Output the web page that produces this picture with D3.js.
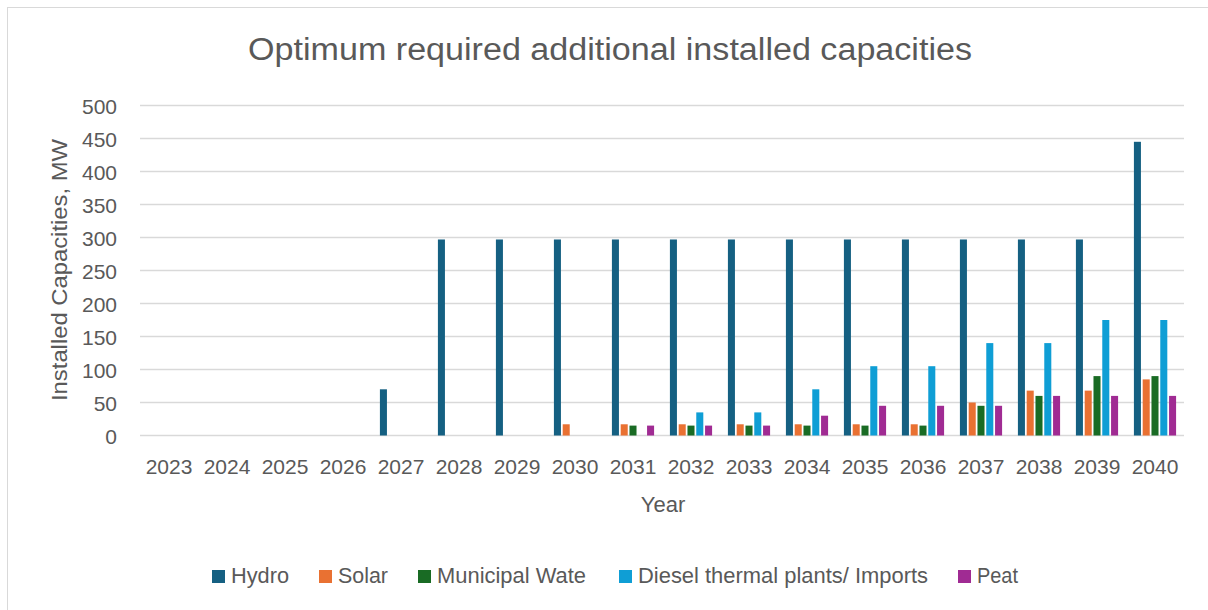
<!DOCTYPE html>
<html><head><meta charset="utf-8">
<script src="https://cdn.jsdelivr.net/npm/d3@7"></script>
<style>body{margin:0;background:#fff}svg{display:block}</style>
</head><body>
<svg id="c" width="1208" height="610"></svg>
<script>
const years = ["2023","2024","2025","2026","2027","2028","2029","2030","2031","2032","2033","2034","2035","2036","2037","2038","2039","2040"];
const seriesNames = ["Hydro","Solar","Municipal Wate","Diesel thermal plants/ Imports","Peat"];
const hydro     = [0,0,0,0,70,297,297,297,297,297,297,297,297,297,297,297,297,445];
const solar     = [0,0,0,0,0,0,0,17,17,17,17,17,17,17,50,68,68,85];
const municipal = [0,0,0,0,0,0,0,0,15,15,15,15,15,15,45,60,90,90];
const diesel    = [0,0,0,0,0,0,0,0,0,35,35,70,105,105,140,140,175,175];
const peat      = [0,0,0,0,0,0,0,0,15,15,15,30,45,45,45,60,60,60];
const yTicks = [0,50,100,150,200,250,300,350,400,450,500];
const colors = ["#156082","#E97132","#196B24","#0F9ED5","#A02B93"];
const seriesValues = [hydro, solar, municipal, diesel, peat];
const legendWidths = [58,50,149,290,41];

const svg = d3.select("#c");
const textColor = "#595959";
const narrow = "'Liberation Sans Narrow','Liberation Sans',Arial,sans-serif";
const sans = "'Liberation Sans',Arial,sans-serif";

// outer border
svg.append("rect").attr("x",7.5).attr("y",7.5).attr("width",1250).attr("height",650)
  .attr("fill","none").attr("stroke","#D9D9D9").attr("stroke-width",1);

const x0 = d3.scaleBand().domain(years).range([140,1184]).padding(0);
const x1 = d3.scaleBand().domain(seriesNames).range([0,x0.bandwidth()]).paddingInner(0.2).paddingOuter(0.9);
const y = d3.scaleLinear().domain([0,500]).range([435.5,105.5]);

// gridlines
svg.append("g").selectAll("line").data(yTicks).join("line")
  .attr("x1",140).attr("x2",1184)
  .attr("y1",d=>y(d)).attr("y2",d=>y(d))
  .attr("stroke","#D9D9D9").attr("stroke-width",1.5);

// y axis
const yAxis = svg.append("g").attr("transform","translate(140,0)")
  .call(d3.axisLeft(y).tickValues(yTicks).tickSize(0).tickPadding(23));
yAxis.select(".domain").remove();
yAxis.selectAll("text").attr("fill",textColor).attr("font-family",sans).attr("font-size",21).attr("dy","0.36em");

// bars
const groups = svg.append("g").selectAll("g").data(years).join("g")
  .attr("transform",d=>`translate(${x0(d)},0)`);
groups.selectAll("rect").data((d,i)=>seriesNames.map((s,k)=>({s,k,v:seriesValues[k][i]})).filter(o=>o.v>0))
  .join("rect")
  .attr("x",o=>x1(o.s)).attr("width",x1.bandwidth())
  .attr("y",o=>y(o.v)).attr("height",o=>y(0)-y(o.v))
  .attr("fill",o=>colors[o.k]);

// x axis
const xAxis = svg.append("g").attr("transform","translate(0,435.5)")
  .call(d3.axisBottom(x0).tickSize(0).tickPadding(24));
xAxis.select(".domain").remove();
xAxis.selectAll("text").attr("fill",textColor).attr("font-family",sans).attr("font-size",21);

// title
svg.append("text").attr("x",610).attr("y",60).attr("text-anchor","middle")
  .attr("font-family",narrow).attr("font-size",31).attr("fill",textColor)
  .attr("textLength",724).attr("lengthAdjust","spacingAndGlyphs")
  .text("Optimum required additional installed capacities");

// axis titles
svg.append("text").attr("transform","translate(67,270) rotate(-90)").attr("text-anchor","middle")
  .attr("font-family",sans).attr("font-size",22).attr("fill",textColor)
  .attr("textLength",262).attr("lengthAdjust","spacingAndGlyphs")
  .text("Installed Capacities, MW");
svg.append("text").attr("x",663).attr("y",512).attr("text-anchor","middle")
  .attr("font-family",sans).attr("font-size",22).attr("fill",textColor).text("Year");

// legend
const legendX = [212,319,418,619,958];
const lg = svg.append("g").selectAll("g").data(seriesNames).join("g")
  .attr("transform",(d,i)=>`translate(${legendX[i]},0)`);
lg.append("rect").attr("x",0).attr("y",570).attr("width",13).attr("height",13).attr("fill",(d,i)=>colors[i]);
lg.append("text").attr("x",19).attr("y",583).attr("font-family",narrow).attr("font-size",22)
  .attr("fill",textColor).attr("textLength",(d,i)=>legendWidths[i]).attr("lengthAdjust","spacingAndGlyphs")
  .text(d=>d);
</script>
</body></html>
